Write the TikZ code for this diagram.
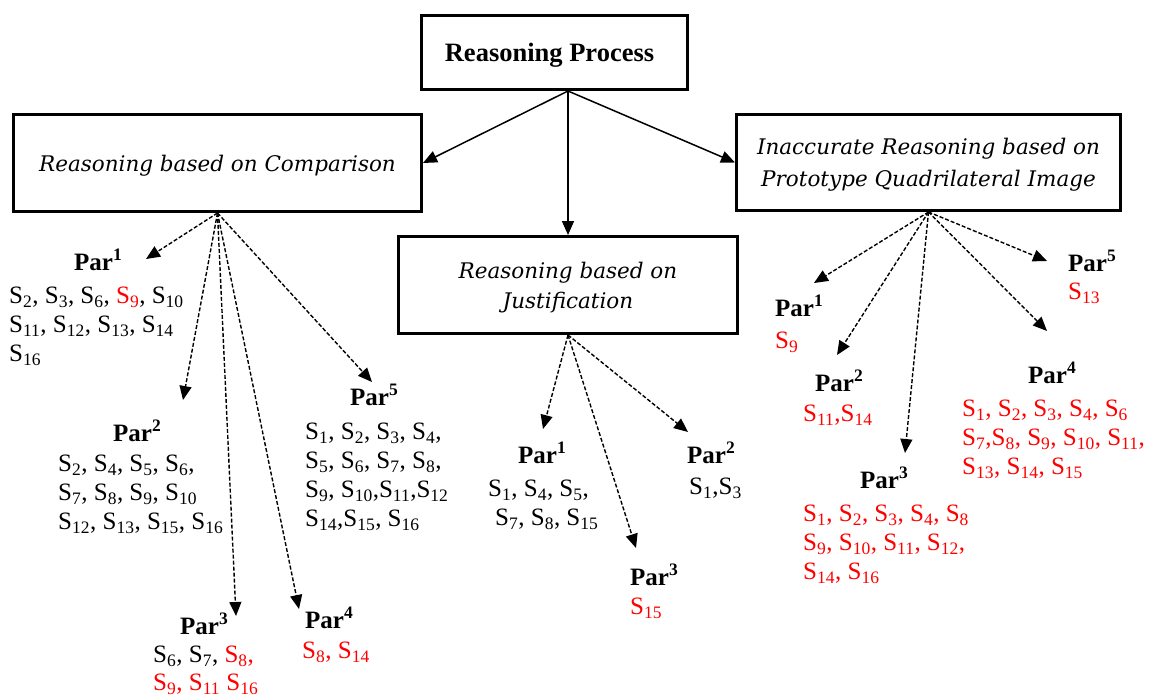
\documentclass[tikz,border=0pt]{standalone}
\usepackage{fontspec}
\setmainfont{Liberation Serif}
\newfontfamily\boxfont{DejaVu Serif}
\usetikzlibrary{arrows.meta}
\definecolor{mred}{RGB}{255,0,0}
\newcommand{\Sb}[1]{S\textsubscript{#1}}
\newcommand{\ParT}[1]{\textbf{Par}\textsuperscript{\textbf{#1}}}
\newcommand{\rd}[1]{\textcolor{mred}{#1}}
\tikzset{
  mainbox/.style={draw, line width=3pt, inner sep=0pt, align=center, text depth=0pt},
  boxtext/.style={font=\boxfont\itshape\fontsize{21.5}{30}\selectfont},
  partitle/.style={font=\fontsize{25}{29}\selectfont, inner sep=0pt, anchor=base west},
  slist/.style={font=\fontsize{25}{29}\selectfont, inner sep=0pt, align=left, anchor=north west},
  solidarrow/.style={line width=1.5pt, -{Triangle[length=14pt,width=12pt]}},
  dasharrow/.style={line width=1.4pt, dash pattern=on 4pt off 2pt, -{Triangle[length=14pt,width=12pt]}}
}
\begin{document}
\begin{tikzpicture}[x=1pt,y=-1pt]
\useasboundingbox (0,0) rectangle (1151,699);
% main boxes
\node[mainbox, minimum width=266pt, minimum height=74pt, font=\fontsize{26.5}{30}\selectfont\bfseries] (top) at (554.5,52.5) {Reasoning Process\hspace*{10pt}};
\node[mainbox, boxtext, minimum width=408pt, minimum height=97pt] (lc) at (217.5,163) {Reasoning based on Comparison};
\node[mainbox, boxtext, minimum width=339pt, minimum height=97pt] (mj) at (568,285) {Reasoning based on\\Justification};
\node[mainbox, boxtext, font=\boxfont\itshape\fontsize{21.5}{32}\selectfont, minimum width=384pt, minimum height=96pt] (rc) at (928.5,162.5) {Inaccurate Reasoning based on\\Prototype Quadrilateral Image};
% solid arrows
\coordinate (ts) at (top.south -| mj.north);
\draw[solidarrow] (ts) -- (lc.east);
\draw[solidarrow] (ts) -- (mj.north);
\draw[solidarrow] (ts) -- (rc.west);
% tips
\coordinate (t1) at (146,259);
\coordinate (t2) at (183,400);
\coordinate (t3) at (236,616);
\coordinate (t4) at (299,609);
\coordinate (t5) at (372,382);
\coordinate (m1) at (543,429);
\coordinate (m2) at (688,432);
\coordinate (m3) at (636,548);
\coordinate (r1) at (814,283);
\coordinate (r2) at (837,355);
\coordinate (r3) at (905,453);
\coordinate (r4) at (1047,331);
\coordinate (r5) at (1047,261);
\foreach \t in {t1,t2,t3,t4,t5} \draw[dasharrow] (lc.south) -- (\t);
\foreach \t in {m1,m2,m3} \draw[dasharrow] (mj.south) -- (\t);
\foreach \t in {r1,r2,r3,r4,r5} \draw[dasharrow] (rc.south) -- (\t);
% left group
\node[partitle] (lp1) at (74,270) {\ParT{1}};
\node[slist] (ls1) at (9,287) {\Sb{2}, \Sb{3}, \Sb{6}, \rd{\Sb{9}}, \Sb{10}\\\Sb{11}, \Sb{12}, \Sb{13}, \Sb{14}\\\Sb{16}};
\node[partitle] (lp2) at (113,441) {\ParT{2}};
\node[slist] (ls2) at (58,455) {\Sb{2}, \Sb{4}, \Sb{5}, \Sb{6},\\\Sb{7}, \Sb{8}, \Sb{9}, \Sb{10}\\\Sb{12}, \Sb{13}, \Sb{15}, \Sb{16}};
\node[partitle] (lp3) at (180,634) {\ParT{3}};
\node[slist, font=\fontsize{25}{28}\selectfont] (ls3) at (153,646) {\Sb{6}, \Sb{7}, \rd{\Sb{8},}\\\rd{\Sb{9}, \Sb{11} \Sb{16}}};
\node[partitle] (lp4) at (305,628) {\ParT{4}};
\node[slist] (ls4) at (302,642) {\rd{\Sb{8}, \Sb{14}}};
\node[partitle] (lp5) at (350,405) {\ParT{5}};
\node[slist] (ls5) at (305,423) {\Sb{1}, \Sb{2}, \Sb{3}, \Sb{4},\\\Sb{5}, \Sb{6}, \Sb{7}, \Sb{8},\\\Sb{9}, \Sb{10},\Sb{11},\Sb{12}\\\Sb{14},\Sb{15}, \Sb{16}};
% middle group
\node[partitle] (mp1) at (518,463) {\ParT{1}};
\node[slist] (ms1) at (488,480) {\Sb{1}, \Sb{4}, \Sb{5},\\\hspace*{7pt}\Sb{7}, \Sb{8}, \Sb{15}};
\node[partitle] (mp2) at (687,463) {\ParT{2}};
\node[slist] (ms2) at (689,478) {\Sb{1},\Sb{3}};
\node[partitle] (mp3) at (630,585) {\ParT{3}};
\node[slist] (ms3) at (630,598) {\rd{\Sb{15}}};
% right group
\node[partitle] (rp1) at (775,316) {\ParT{1}};
\node[slist] (rs1) at (775,332) {\rd{\Sb{9}}};
\node[partitle] (rp2) at (815,391) {\ParT{2}};
\node[slist] (rs2) at (803,405) {\rd{\Sb{11},\Sb{14}}};
\node[partitle] (rp3) at (860,488) {\ParT{3}};
\node[slist, text=mred] (rs3) at (803,505) {\Sb{1}, \Sb{2}, \Sb{3}, \Sb{4}, \Sb{8}\\\Sb{9}, \Sb{10}, \Sb{11}, \Sb{12},\\\Sb{14}, \Sb{16}};
\node[partitle] (rp4) at (1028,383) {\ParT{4}};
\node[slist, text=mred] (rs4) at (962,400) {\Sb{1}, \Sb{2}, \Sb{3}, \Sb{4}, \Sb{6}\\\Sb{7},\Sb{8}, \Sb{9}, \Sb{10}, \Sb{11},\\\Sb{13}, \Sb{14}, \Sb{15}};
\node[partitle] (rp5) at (1068,271) {\ParT{5}};
\node[slist] (rs5) at (1068,283) {\rd{\Sb{13}}};
\end{tikzpicture}
\end{document}
